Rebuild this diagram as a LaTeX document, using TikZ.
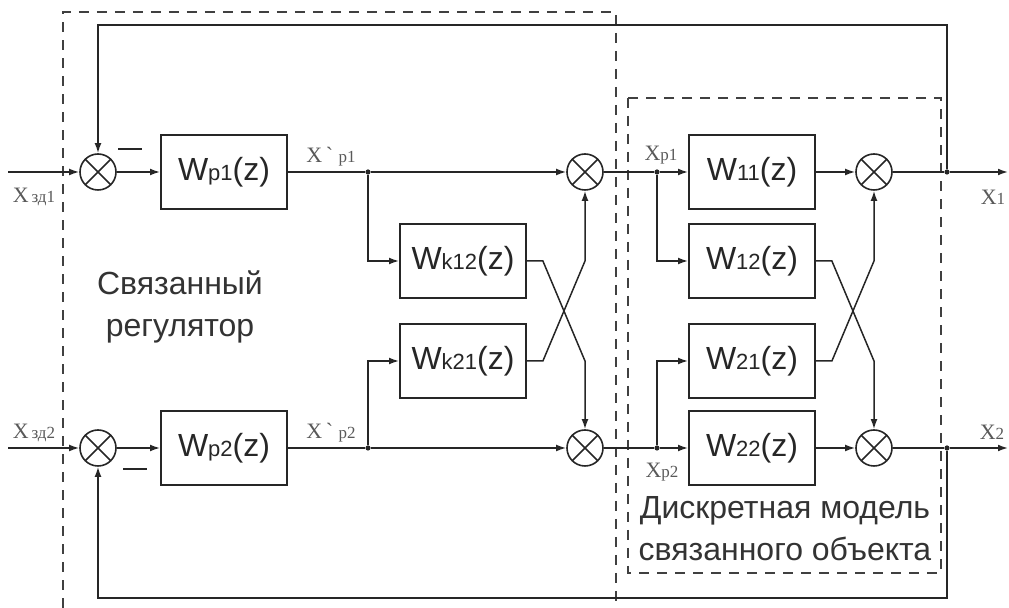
\documentclass[tikz,border=0pt]{standalone}
\usepackage{fontspec}
\setmainfont{Liberation Sans}
\newfontfamily\xfont{Liberation Serif}
\usetikzlibrary{arrows.meta,positioning}

\tikzset{
  >={Latex[length=5pt,width=3.4pt]},
  block/.style={draw, line width=0.9pt, minimum width=63pt, minimum height=37pt,
    inner sep=0pt, text=black!85, font=\fontsize{16}{18}\selectfont},
  sumnode/.style={circle, draw, line width=0.8pt, minimum size=18pt, inner sep=0pt,
    path picture={\draw[line width=0.8pt]
      (path picture bounding box.north west) -- (path picture bounding box.south east)
      (path picture bounding box.north east) -- (path picture bounding box.south west);}},
  sig/.style={font=\xfont\fontsize{11}{12}\selectfont, text=black!65, inner sep=0pt},
  frame/.style={dash pattern=on 5pt off 4pt, line width=0.7pt, black!75},
  dot/.style={circle, fill, inner sep=0pt, minimum size=2.6pt},
  caption/.style={align=center, text=black!80, font=\fontsize{16}{21}\selectfont},
}
\newcommand{\wlab}[1]{W{\fontsize{11}{12}\selectfont #1}(z)}
\newcommand{\xsub}[1]{{\fontsize{8.5}{10}\selectfont #1}}

\begin{document}
\begin{tikzpicture}[x=0.5pt, y=-0.5pt, line width=0.75pt, black!85]

\useasboundingbox (0,0) rectangle (1009,608);

% =========================
% FRAMES
% =========================
\draw[frame] (63,608) -- (63,12) -- (616,12) -- (616,608);
\draw[frame] (628,98) rectangle (941,573);

% =========================
% REGULATOR
% =========================
\coordinate (in1) at (8,172);
\coordinate (in2) at (8,448);

\node[sumnode] (sum1) at (98,172) {};
\node[sumnode] (sum2) at (98,448) {};

\node[block] (wp1) at (224,172) {\wlab{p1}};
\node[block] (wp2) at (224,448) {\wlab{p2}};

\node[dot] (dA) at (368,172) {};
\node[dot] (dB) at (368,448) {};

\node[block] (wk12) at (463,261) {\wlab{k12}};
\node[block] (wk21) at (463,361) {\wlab{k21}};

\node[sumnode] (sum3) at (585,172) {};
\node[sumnode] (sum4) at (585,448) {};

% minus signs
\draw[line width=1pt] (118,149) -- (142,149);
\draw[line width=1pt] (123,469) -- (147,469);

% labels
\node[sig] (lz1) at (34,197) {X\xsub{\,зд1}};
\node[sig] (lz2) at (34,433) {X\xsub{\,зд2}};
\node[sig] (lr1) at (331,157) {X\,\textasciigrave\ \xsub{p1}};
\node[sig] (lr2) at (331,433) {X\,\textasciigrave\ \xsub{p2}};

\node[caption] (reg) at (180,307) {Связанный\\регулятор};

% =========================
% OBJECT MODEL
% =========================
\node[dot] (dC) at (657,172) {};
\node[dot] (dD) at (657,448) {};

\node[block] (w11) at (752,172) {\wlab{11}};
\node[block] (w12) at (752,261) {\wlab{12}};
\node[block] (w21) at (752,361) {\wlab{21}};
\node[block] (w22) at (752,448) {\wlab{22}};

\node[sumnode] (sum5) at (874,172) {};
\node[sumnode] (sum6) at (874,448) {};

\node[dot] (dE) at (947,172) {};
\node[dot] (dF) at (947,448) {};

\coordinate (out1) at (1008,172);
\coordinate (out2) at (1008,448);

\node[sig] (lp1) at (661,155) {X\xsub{p1}};
\node[sig] (lp2) at (662,472) {X\xsub{p2}};
\node[sig] (lo1) at (993,197) {X\xsub{1}};
\node[sig] (lo2) at (992,432) {X\xsub{2}};

\node[caption] (mdl) at (785,529) {Дискретная модель\\связанного объекта};

% =========================
% CONNECTIONS
% =========================
% row 1
\draw[->] (in1) -- (sum1);
\draw[->] (sum1) -- (wp1);
\draw (wp1) -- (dA);
\draw[->] (dA) -- (sum3);
\draw (sum3) -- (dC);
\draw[->] (dC) -- (w11);
\draw[->] (w11) -- (sum5);
\draw (sum5) -- (dE);
\draw[->] (dE) -- (out1);

% row 2
\draw[->] (in2) -- (sum2);
\draw[->] (sum2) -- (wp2);
\draw (wp2) -- (dB);
\draw[->] (dB) -- (sum4);
\draw (sum4) -- (dD);
\draw[->] (dD) -- (w22);
\draw[->] (w22) -- (sum6);
\draw (sum6) -- (dF);
\draw[->] (dF) -- (out2);

% branches
\draw[->] (dA) |- (wk12);
\draw[->] (dB) |- (wk21);
\draw[->] (dC) |- (w12);
\draw[->] (dD) |- (w21);

% crossings
\draw[->] (wk12.east) -- ++(16,0) -- (sum4.north |- wk21) -- (sum4);
\draw[->] (wk21.east) -- ++(16,0) -- (sum3.south |- wk12) -- (sum3);
\draw[->] (w12.east) -- ++(16,0) -- (sum6.north |- w21) -- (sum6);
\draw[->] (w21.east) -- ++(16,0) -- (sum5.south |- w12) -- (sum5);

% feedback
\coordinate (fbtop) at (947,25);
\coordinate (fbbot) at (947,598);
\draw[->] (dE) -- (fbtop) -| (sum1);
\draw[->] (dF) -- (fbbot) -| (sum2);

\end{tikzpicture}
\end{document}
